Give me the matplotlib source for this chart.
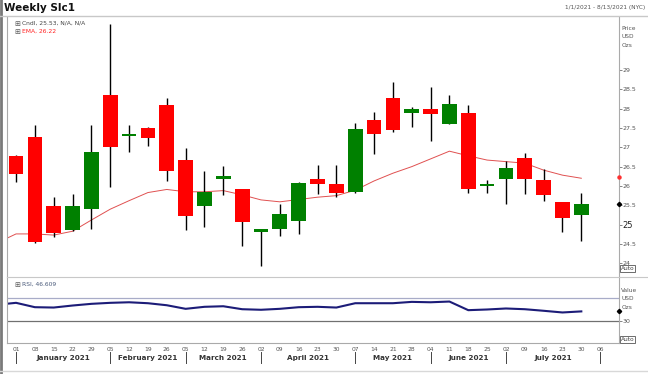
import matplotlib
matplotlib.use("Agg")
import matplotlib.pyplot as plt
from matplotlib.patches import Rectangle
import numpy as np

# ---------------- data ----------------
week_labels = ["01", "08", "15", "22", "29", "05", "12", "19", "26", "05", "12", "19", "26",
               "02", "09", "16", "23", "30", "07", "14", "21", "28", "04", "11", "18", "25",
               "02", "09", "16", "23", "30", "06"]
month_names = ["January 2021", "February 2021", "March 2021", "April 2021",
               "May 2021", "June 2021", "July 2021"]
month_starts = [0, 5, 9, 13, 18, 22, 26, 31]   # week index of first Friday of each month

opens = [26.78, 27.27, 25.49, 24.86, 25.41, 28.36, 27.29, 27.50, 28.10, 26.67, 25.48,
         26.18, 25.92, 24.82, 24.89, 25.10, 26.18, 26.05, 25.84, 27.71, 28.27, 27.88,
         28.00, 27.60, 27.88, 26.00, 26.19, 26.72, 26.16, 25.58, 25.26]
closes = [26.31, 24.54, 24.79, 25.49, 26.88, 27.00, 27.33, 27.24, 26.38, 25.22, 25.84,
          26.27, 25.06, 24.89, 25.28, 26.08, 26.05, 25.81, 27.47, 27.34, 27.46, 27.98,
          27.87, 28.13, 25.93, 26.05, 26.47, 26.18, 25.76, 25.17, 25.53]
highs = [26.80, 27.57, 25.72, 25.80, 27.57, 30.19, 27.57, 27.53, 28.27, 26.98, 26.38,
         26.52, 25.93, 24.90, 25.53, 26.09, 26.54, 26.54, 27.64, 27.92, 28.70, 28.04,
         28.57, 28.36, 28.10, 26.15, 26.65, 26.86, 26.43, 25.59, 25.83]
lows = [26.10, 24.53, 24.69, 24.84, 24.88, 25.98, 26.89, 27.03, 26.14, 24.86, 24.95,
        25.77, 24.46, 23.92, 24.71, 24.76, 25.79, 25.71, 25.83, 26.83, 27.39, 27.52,
        27.16, 27.59, 25.83, 25.81, 25.53, 25.79, 25.61, 24.82, 24.58]
# EMA and RSI, first value belongs to the week before the first candle
ema = [24.53, 24.76, 24.76, 24.73, 24.83, 25.12, 25.40, 25.62, 25.83, 25.91, 25.85,
       25.85, 25.88, 25.77, 25.64, 25.59, 25.65, 25.71, 25.75, 25.89, 26.13, 26.33,
       26.50, 26.70, 26.90, 26.78, 26.67, 26.63, 26.59, 26.41, 26.28, 26.20]
rsi = [58.5, 61.9, 54.1, 53.5, 57.1, 60.1, 61.9, 62.9, 61.2, 57.6, 51.2, 54.8, 55.8,
       50.5, 49.5, 51.2, 54.1, 54.8, 53.5, 61.2, 61.2, 61.2, 63.6, 62.9, 64.2, 48.8,
       50.0, 51.8, 50.5, 47.7, 44.7, 46.6]
price_ticks = [24, 24.5, 25, 25.5, 26, 26.5, 27, 27.5, 28, 28.5, 29]
last_close = 25.53
last_ema = 26.22
last_rsi = 46.609

# ---------------- figure ----------------
W, H = 648, 374
fig = plt.figure(figsize=(W / 100, H / 100), dpi=100)
fig.patch.set_facecolor("white")
plt.rcParams['font.family'] = ['DejaVu Sans']

def rect(l, t, r, b):
    return [l / W, 1 - b / H, (r - l) / W, (b - t) / H]

XL = (-0.48, 32.0)
ax = fig.add_axes(rect(7, 17, 619, 277))
ax2 = fig.add_axes(rect(7, 277, 619, 343))

# outer decorations (figure-level lines)
def fline(x0, y0, x1, y1, color, lw):
    fig.add_artist(plt.Line2D([x0 / W, x1 / W], [1 - y0 / H, 1 - y1 / H],
                              color=color, lw=lw, transform=fig.transFigure))

fline(1, 0, 1, H, "#7a7a7a", 2.0)
fline(0, 16, W, 16, "#c8c8c8", 1.0)
fline(7, 277, W, 277, "#c8c8c8", 0.8)
fline(0, 371, W, 371, "#d8d8d8", 1.0)

fig.text(4 / W, 1 - 8 / H, "Weekly Slc1", fontsize=7.5, fontweight="bold",
         va="center", ha="left", color="#111111")
fig.text(645 / W, 1 - 8 / H, "1/1/2021 - 8/13/2021 (NYC)", fontsize=4.2,
         va="center", ha="right", color="#555555")

# ---------------- main panel ----------------
x = np.arange(len(opens))
bw = 0.78
for i in x:
    o, c, h, l = opens[i], closes[i], highs[i], lows[i]
    col = "#008000" if c >= o else "#ff0000"
    ax.vlines(i, l, h, color="black", lw=1.0, zorder=2)
    bot = min(o, c)
    hgt = max(abs(c - o), 0.06)
    ax.add_patch(Rectangle((i - bw / 2, bot), bw, hgt, facecolor=col,
                           edgecolor="none", zorder=3))

xe = np.arange(len(ema)) - 1
ax.plot(xe, ema, color="#e05050", lw=0.7, zorder=1)

ax.set_xlim(*XL)
ax.set_ylim(23.646, 30.37)
ax.set_xticks([])
ax.yaxis.tick_right()
ax.set_yticks(price_ticks)
ax.set_yticklabels([("%g" % t) for t in price_ticks], fontsize=4.5, color="#555555")
for lab, t in zip(ax.get_yticklabels(), price_ticks):
    if t == 25:
        lab.set_fontsize(6)
        lab.set_color("#222222")
ax.tick_params(axis="y", length=2, width=0.5, pad=0.8, color="#555555")
for s in ["top", "bottom"]:
    ax.spines[s].set_visible(False)
ax.spines["left"].set_color("#aaaaaa")
ax.spines["right"].set_color("#aaaaaa")
ax.spines["left"].set_linewidth(0.8)
ax.spines["right"].set_linewidth(0.8)

ax.text(0.012, 0.985, "\u229e", transform=ax.transAxes, fontsize=5, va="top", color="#555555")
ax.text(0.024, 0.985, "Cndl, 25.53, N/A, N/A", transform=ax.transAxes, fontsize=4.3,
        va="top", color="#444444")
ax.text(0.012, 0.955, "\u229e", transform=ax.transAxes, fontsize=5, va="top", color="#555555")
ax.text(0.024, 0.955, "EMA, 26.22", transform=ax.transAxes, fontsize=4.3, va="top",
        color="#ff2020")

ax.text(1.004, 0.955, "Price", transform=ax.transAxes, fontsize=4.2, va="center", color="#555555")
ax.text(1.004, 0.925, "USD", transform=ax.transAxes, fontsize=4.2, va="center", color="#555555")
ax.text(1.004, 0.89, "Ozs", transform=ax.transAxes, fontsize=4.2, va="center", color="#555555")
ax.plot([1.0], [last_ema], marker="o", ms=2.2, color="#ff3030", transform=ax.get_yaxis_transform(),
        clip_on=False, zorder=5)
ax.plot([1.0], [last_close], marker="D", ms=2.2, color="black", transform=ax.get_yaxis_transform(),
        clip_on=False, zorder=5)
ax.text(1.003, 0.032, "Auto", transform=ax.transAxes, fontsize=4.2, va="center", color="#444444",
        bbox=dict(boxstyle="square,pad=0.15", fc="white", ec="#555555", lw=0.6))

# ---------------- RSI panel ----------------
xr = np.arange(len(rsi)) - 1
ax2.axhline(70, color="#a8acc8", lw=0.9, zorder=1)
ax2.axhline(30, color="#707070", lw=0.9, zorder=1)
ax2.plot(xr, rsi, color="#1c1c78", lw=1.5, zorder=2)
ax2.set_xlim(*XL)
ax2.set_ylim(-9.8, 108)
ax2.yaxis.tick_right()
ax2.set_yticks([30])
ax2.set_yticklabels(["30"], fontsize=4.5, color="#555555")
ax2.tick_params(axis="y", length=2, width=0.5, pad=0.8, color="#555555")
for s in ["top"]:
    ax2.spines[s].set_visible(False)
for s in ["left", "right", "bottom"]:
    ax2.spines[s].set_color("#aaaaaa")
    ax2.spines[s].set_linewidth(0.8)
ax2.text(0.012, 0.93, "\u229e", transform=ax2.transAxes, fontsize=5, va="top", color="#555555")
ax2.text(0.024, 0.93, "RSI, %.3f" % last_rsi, transform=ax2.transAxes, fontsize=4.3,
         va="top", color="#4a5a7a")
ax2.text(1.004, 0.79, "Value", transform=ax2.transAxes, fontsize=4.2, va="center", color="#555555")
ax2.text(1.004, 0.67, "USD", transform=ax2.transAxes, fontsize=4.2, va="center", color="#555555")
ax2.text(1.004, 0.545, "Ozs", transform=ax2.transAxes, fontsize=4.2, va="center", color="#555555")
ax2.plot([1.0], [last_rsi], marker="D", ms=2.2, color="black", transform=ax2.get_yaxis_transform(),
         clip_on=False, zorder=5)
ax2.text(1.003, 0.05, "Auto", transform=ax2.transAxes, fontsize=4.2, va="center", color="#444444",
         bbox=dict(boxstyle="square,pad=0.15", fc="white", ec="#555555", lw=0.6))

# x axis labels
ax2.set_xticks(np.arange(len(week_labels)))
ax2.set_xticklabels(week_labels, fontsize=4.3, color="#555555")
ax2.tick_params(axis="x", length=0, pad=3)

xt = ax2.get_xaxis_transform()
for ms in month_starts:
    ax2.plot([ms, ms], [-0.14, -0.3], color="#444444", lw=0.7, transform=xt, clip_on=False)
for k, name in enumerate(month_names):
    cx = (month_starts[k] + month_starts[k + 1]) / 2
    ax2.text(cx, -0.23, name, transform=xt, fontsize=5.2, fontweight="bold",
             ha="center", va="center", color="#333333")

fig.savefig("out.png", dpi=100, facecolor="white")
